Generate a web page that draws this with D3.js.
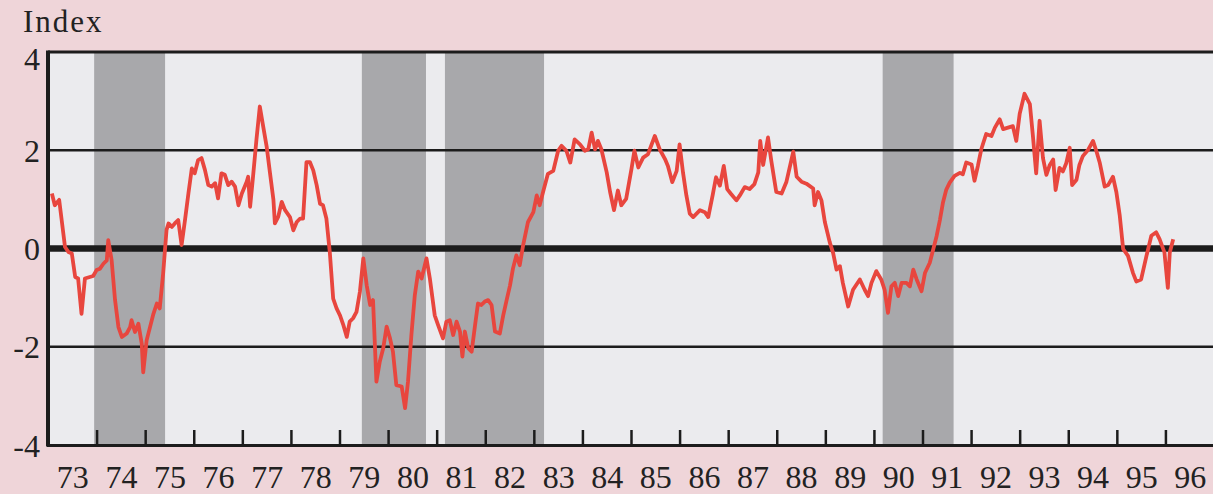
<!DOCTYPE html>
<html>
<head>
<meta charset="utf-8">
<script src="https://cdn.jsdelivr.net/npm/d3@7"></script>
<style>
  body { margin: 0; background: #efd5d9; }
  svg { display: block; }
  .label { font-family: "Liberation Serif", "Times New Roman", serif; font-size: 31px; fill: #222; }
  .axis text { font-family: "Liberation Serif", "Times New Roman", serif; font-size: 32px; fill: #222; }
</style>
</head>
<body>
<div id="chart"></div>
<script>
// monthly index readings (decimal year, value)
const years = [
  1973.08, 1973.14, 1973.23, 1973.35, 1973.42, 1973.49, 1973.56, 1973.62, 1973.69, 1973.76, 1973.86, 1973.93,
  1974.00, 1974.07, 1974.14, 1974.21, 1974.24, 1974.31, 1974.38, 1974.45, 1974.52, 1974.62, 1974.69, 1974.72,
  1974.79, 1974.86, 1974.93, 1974.96, 1975.03, 1975.10, 1975.17, 1975.24, 1975.30, 1975.37, 1975.44, 1975.48,
  1975.55, 1975.61, 1975.68, 1975.75, 1975.82, 1975.89, 1975.96, 1976.02, 1976.09, 1976.16, 1976.23, 1976.30,
  1976.37, 1976.44, 1976.50, 1976.57, 1976.64, 1976.71, 1976.78, 1976.85, 1976.92, 1976.99, 1977.09, 1977.12,
  1977.16, 1977.22, 1977.29, 1977.36, 1977.43, 1977.50, 1977.57, 1977.64, 1977.67, 1977.74, 1977.81, 1977.88,
  1977.98, 1978.05, 1978.12, 1978.19, 1978.25, 1978.32, 1978.39, 1978.46, 1978.53, 1978.60, 1978.66, 1978.73,
  1978.80, 1978.87, 1978.94, 1979.01, 1979.08, 1979.15, 1979.21, 1979.28, 1979.35, 1979.42, 1979.49, 1979.56,
  1979.63, 1979.69, 1979.76, 1979.83, 1979.90, 1979.97, 1980.04, 1980.10, 1980.17, 1980.28, 1980.35, 1980.41,
  1980.48, 1980.55, 1980.62, 1980.69, 1980.79, 1980.86, 1980.96, 1981.03, 1981.13, 1981.20, 1981.27, 1981.34,
  1981.41, 1981.48, 1981.53, 1981.58, 1981.65, 1981.72, 1981.79, 1981.85, 1981.92, 1981.99, 1982.06, 1982.13,
  1982.20, 1982.30, 1982.37, 1982.44, 1982.51, 1982.57, 1982.64, 1982.71, 1982.78, 1982.88, 1982.99, 1983.06,
  1983.12, 1983.19, 1983.29, 1983.40, 1983.50, 1983.57, 1983.67, 1983.75, 1983.84, 1983.95, 1984.05, 1984.12,
  1984.19, 1984.26, 1984.32, 1984.39, 1984.50, 1984.57, 1984.65, 1984.73, 1984.80, 1984.90, 1985.01, 1985.07,
  1985.15, 1985.25, 1985.35, 1985.49, 1985.59, 1985.70, 1985.76, 1985.85, 1985.94, 1986.00, 1986.07, 1986.14,
  1986.21, 1986.28, 1986.42, 1986.52, 1986.59, 1986.68, 1986.75, 1986.83, 1986.91, 1986.98, 1987.06, 1987.17,
  1987.24, 1987.34, 1987.44, 1987.54, 1987.62, 1987.66, 1987.72, 1987.82, 1987.89, 1987.99, 1988.10, 1988.20,
  1988.34, 1988.41, 1988.51, 1988.61, 1988.75, 1988.78, 1988.85, 1988.92, 1988.99, 1989.09, 1989.16, 1989.23,
  1989.30, 1989.36, 1989.47, 1989.57, 1989.71, 1989.81, 1989.88, 1989.95, 1990.05, 1990.15, 1990.22, 1990.29,
  1990.36, 1990.43, 1990.50, 1990.57, 1990.67, 1990.74, 1990.81, 1990.88, 1990.98, 1991.05, 1991.15, 1991.22,
  1991.29, 1991.36, 1991.42, 1991.49, 1991.56, 1991.66, 1991.77, 1991.83, 1991.90, 1992.01, 1992.07, 1992.14,
  1992.21, 1992.31, 1992.42, 1992.49, 1992.59, 1992.66, 1992.76, 1992.86, 1992.93, 1993.00, 1993.10, 1993.21,
  1993.27, 1993.34, 1993.41, 1993.48, 1993.55, 1993.62, 1993.69, 1993.74, 1993.82, 1993.89, 1993.96, 1994.03,
  1994.08, 1994.17, 1994.23, 1994.30, 1994.41, 1994.51, 1994.58, 1994.65, 1994.75, 1994.82, 1994.92, 1994.99,
  1995.06, 1995.13, 1995.23, 1995.33, 1995.40, 1995.50, 1995.61, 1995.71, 1995.81, 1995.88, 1995.98, 1996.05,
  1996.09, 1996.16
];
const index = [
  1.12, 0.88, 0.99, 0.03, -0.07, -0.10, -0.58, -0.61, -1.33, -0.61, -0.58, -0.56,
  -0.44, -0.41, -0.31, -0.24, 0.17, -0.24, -1.05, -1.60, -1.80, -1.73, -1.60, -1.46,
  -1.70, -1.53, -1.94, -2.52, -1.87, -1.60, -1.33, -1.12, -1.22, -0.51, 0.38, 0.51,
  0.44, 0.51, 0.58, 0.07, 0.58, 1.12, 1.63, 1.53, 1.80, 1.84, 1.60, 1.29,
  1.26, 1.33, 1.02, 1.53, 1.50, 1.29, 1.36, 1.26, 0.88, 1.12, 1.36, 1.46,
  0.85, 1.46, 2.21, 2.89, 2.48, 2.08, 1.53, 0.99, 0.51, 0.65, 0.95, 0.78,
  0.64, 0.37, 0.54, 0.61, 0.61, 1.76, 1.76, 1.59, 1.29, 0.91, 0.88, 0.61,
  -0.07, -1.02, -1.22, -1.36, -1.56, -1.80, -1.49, -1.42, -1.29, -0.88, -0.20, -0.75,
  -1.15, -1.05, -2.71, -2.30, -2.03, -1.59, -1.83, -2.10, -2.78, -2.81, -3.25, -2.71,
  -1.76, -0.95, -0.47, -0.61, -0.20, -0.61, -1.36, -1.56, -1.83, -1.49, -1.46, -1.76,
  -1.49, -1.69, -2.20, -1.69, -2.03, -2.10, -1.56, -1.12, -1.15, -1.08, -1.05, -1.15,
  -1.69, -1.73, -1.36, -1.05, -0.75, -0.41, -0.14, -0.34, 0.07, 0.54, 0.74, 1.08,
  0.88, 1.15, 1.52, 1.58, 1.99, 2.09, 1.99, 1.75, 2.22, 2.12, 1.99, 2.02,
  2.36, 2.02, 2.19, 2.02, 1.55, 1.15, 0.78, 1.18, 0.88, 1.01, 1.62, 1.99,
  1.65, 1.85, 1.92, 2.29, 2.02, 1.82, 1.68, 1.35, 1.58, 2.12, 1.55, 1.08,
  0.71, 0.64, 0.78, 0.74, 0.64, 1.08, 1.45, 1.28, 1.68, 1.21, 1.11, 0.98,
  1.08, 1.25, 1.21, 1.31, 1.55, 2.19, 1.70, 2.26, 1.77, 1.15, 1.12, 1.36,
  1.97, 1.46, 1.36, 1.32, 1.22, 0.88, 1.15, 0.98, 0.54, 0.13, -0.09, -0.43,
  -0.36, -0.70, -1.18, -0.84, -0.63, -0.84, -0.97, -0.70, -0.46, -0.63, -0.84, -1.31,
  -0.77, -0.70, -0.97, -0.70, -0.70, -0.77, -0.43, -0.63, -0.87, -0.50, -0.29, -0.02,
  0.25, 0.59, 0.93, 1.20, 1.34, 1.48, 1.54, 1.51, 1.75, 1.71, 1.38, 1.68,
  2.02, 2.33, 2.29, 2.46, 2.63, 2.43, 2.46, 2.49, 2.19, 2.74, 3.15, 2.94,
  2.32, 1.53, 2.60, 1.84, 1.50, 1.70, 1.81, 1.19, 1.64, 1.57, 1.74, 2.05,
  1.29, 1.40, 1.70, 1.88, 2.01, 2.19, 1.98, 1.74, 1.26, 1.29, 1.46, 1.15,
  0.67, -0.01, -0.15, -0.49, -0.67, -0.63, -0.15, 0.26, 0.33, 0.19, -0.08, -0.80,
  -0.08, 0.19
];

// shaded recession periods
const recessionStart = [1973.95, 1979.46, 1981.17, 1990.18];
const recessionEnd   = [1975.41, 1980.78, 1983.21, 1991.64];

const yTicks = [-4, -2, 0, 2, 4];
const yearLabels = ['73','74','75','76','77','78','79','80','81','82','83','84',
                    '85','86','87','88','89','90','91','92','93','94','95','96'];

const config = {
  width: 1213,
  height: 494,
  margin: { top: 52, right: -1, bottom: 49, left: 48 }
};

const svg = d3.select('#chart').append('svg')
  .attr('width', config.width)
  .attr('height', config.height);

svg.append('rect')
  .attr('width', config.width)
  .attr('height', config.height)
  .attr('fill', '#efd5d9');

const innerW = config.width - config.margin.left - config.margin.right;
const innerH = config.height - config.margin.top - config.margin.bottom;

const x = d3.scaleLinear().domain([1973, 1997]).range([0, innerW]);
const y = d3.scaleLinear().domain([-4, 4]).range([innerH, 0]);

const g = svg.append('g')
  .attr('transform', `translate(${config.margin.left},${config.margin.top})`);

// plot background
g.append('rect')
  .attr('width', innerW)
  .attr('height', innerH)
  .attr('fill', '#ebebee');

// recession bands
const recessions = recessionStart.map((s, i) => ({ start: s, end: recessionEnd[i] }));
g.selectAll('.band')
  .data(recessions)
  .join('rect')
  .attr('class', 'band')
  .attr('x', d => x(d.start))
  .attr('width', d => x(d.end) - x(d.start))
  .attr('y', 0)
  .attr('height', innerH)
  .attr('fill', '#a8a8ab');

// horizontal rules
g.selectAll('.rule')
  .data(yTicks.filter(d => d !== -4))
  .join('line')
  .attr('class', 'rule')
  .attr('x1', 0)
  .attr('x2', innerW)
  .attr('y1', d => y(d))
  .attr('y2', d => y(d))
  .attr('stroke', '#1c1c1c')
  .attr('stroke-width', d => d === 0 ? 6.5 : (d === 4 ? 3 : 2.5));

// bottom axis with inward ticks at year boundaries
const xAxis = d3.axisBottom(x)
  .tickValues(d3.range(1974, 1997))
  .tickSize(-15)
  .tickFormat('');
const xAxisG = g.append('g')
  .attr('class', 'axis')
  .attr('transform', `translate(0,${innerH})`)
  .call(xAxis);
xAxisG.select('.domain').attr('stroke', '#1c1c1c').attr('stroke-width', 3);
xAxisG.selectAll('.tick line').attr('stroke', '#1c1c1c').attr('stroke-width', 2.5);

// year labels centred in each year
const labelAxis = d3.axisBottom(x)
  .tickValues(yearLabels.map((d, i) => 1973.5 + i))
  .tickSize(0)
  .tickPadding(20)
  .tickFormat((d, i) => yearLabels[i]);
const labelG = g.append('g')
  .attr('class', 'axis')
  .attr('transform', `translate(0,${innerH})`)
  .call(labelAxis);
labelG.select('.domain').remove();

// left axis, plain hyphen for negatives as in the print
const yAxis = d3.axisLeft(y)
  .tickValues(yTicks)
  .tickSize(0)
  .tickPadding(8)
  .tickFormat(d => String(d));
const yAxisG = g.append('g')
  .attr('class', 'axis')
  .call(yAxis);
yAxisG.select('.domain').remove();
yAxisG.selectAll('.tick text').attr('dy', d => d === 4 ? '0.55em' : '0.35em');

g.append('line')
  .attr('x1', 0).attr('x2', 0)
  .attr('y1', -1.5).attr('y2', innerH + 1.5)
  .attr('stroke', '#1c1c1c')
  .attr('stroke-width', 4);

// index line
const points = years.map((d, i) => ({ year: d, value: index[i] }));
const line = d3.line()
  .x(d => x(d.year))
  .y(d => y(d.value));

g.append('path')
  .datum(points)
  .attr('fill', 'none')
  .attr('stroke', '#e8463e')
  .attr('stroke-width', 3.8)
  .attr('stroke-linejoin', 'round')
  .attr('d', line);

// axis title
svg.append('text')
  .attr('class', 'label')
  .attr('x', 23)
  .attr('y', 32)
  .attr('letter-spacing', 2)
  .text('Index');
</script>
</body>
</html>
